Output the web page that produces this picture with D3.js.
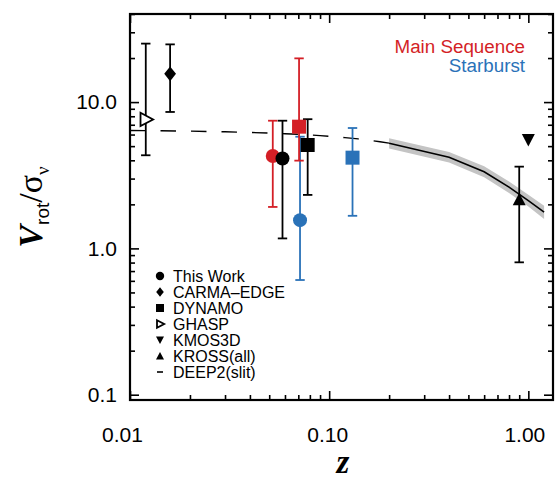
<!DOCTYPE html>
<html>
<head>
<meta charset="utf-8">
<script src="https://cdn.jsdelivr.net/npm/d3@7"></script>
<style>
  html, body { margin: 0; padding: 0; background: #fff; }
  svg { display: block; }
</style>
</head>
<body>
<svg id="chart" width="557" height="479" font-family="Liberation Sans, Arial, Helvetica, sans-serif"></svg>
<script>
// ---------------- data ----------------
// This Work (circles): main sequence (red), all (black), starburst (blue)
const thisWorkZ   = [0.0521, 0.0583, 0.0714];
const thisWorkV   = [4.28, 4.12, 1.56];
const thisWorkLo  = [1.92, 1.17, 0.608];
const thisWorkHi  = [7.46, 7.46, 5.80];
const thisWorkCls = ["ms", "all", "sb"];

// DYNAMO (squares)
const dynamoZ   = [0.0706, 0.078, 0.131];
const dynamoV   = [6.79, 5.09, 4.17];
const dynamoLo  = [3.98, 2.32, 1.67];
const dynamoHi  = [19.9, 7.64, 6.65];
const dynamoCls = ["ms", "all", "sb"];

// CARMA-EDGE (diamond)
const carmaZ = [0.0159], carmaV = [15.6], carmaLo = [8.56], carmaHi = [24.8];
// GHASP (open right triangle)
const ghaspZ = [0.012], ghaspV = [7.61], ghaspLo = [4.33], ghaspHi = [25.1];
// KMOS3D (down triangle)
const kmosZ = [1.0], kmosV = [5.51];
// KROSS(all) (up triangle)
const krossZ = [0.90], krossV = [2.16], krossLo = [0.803], krossHi = [3.62];

// DEEP2(slit) dashed low-z line
const deepDashZ = [0.01, 0.02, 0.03, 0.04, 0.05, 0.06, 0.07, 0.08, 0.09, 0.10, 0.12, 0.14, 0.16, 0.18, 0.20];
const deepDashV = [6.40, 6.33, 6.27, 6.20, 6.14, 6.08, 6.02, 5.96, 5.90, 5.84, 5.72, 5.60, 5.48, 5.36, 5.24];
// DEEP2 solid line with band
const deepZ  = [0.2, 0.4, 0.6, 0.8, 1.0, 1.2];
const deepV  = [5.23, 4.20, 3.34, 2.62, 2.12, 1.77];
const deepLo = [4.82, 3.87, 3.06, 2.39, 1.93, 1.59];
const deepHi = [5.67, 4.56, 3.64, 2.87, 2.33, 1.96];

// axes
const xMajor = [0.01, 0.1, 1];
const xMajorLabels = ["0.01", "0.10", "1.00"];
const xMinor = [0.02,0.03,0.04,0.05,0.06,0.07,0.08,0.09,0.2,0.3,0.4,0.5,0.6,0.7,0.8,0.9];
const yMajor = [0.1, 1, 10];
const yMajorLabels = ["0.1", "1.0", "10.0"];
const yMinor = [0.2,0.3,0.4,0.5,0.6,0.7,0.8,0.9,2,3,4,5,6,7,8,9,20,30,40];

// legend
const legendLabels  = ["This Work", "CARMA\u2013EDGE", "DYNAMO", "GHASP", "KMOS3D", "KROSS(all)", "DEEP2(slit)"];
const legendSymbols = ["circle", "diamond", "square", "rtri", "dtri", "utri", "dash"];
const classLabels = ["Main Sequence", "Starburst"];

// ---------------- drawing ----------------
const colors = { ms: "#d41f26", sb: "#2a72b8", all: "#000000" };
const SANS = "Liberation Sans, Arial, Helvetica, sans-serif";
const SERIF = "Liberation Serif, Times New Roman, Times, serif";
const svg = d3.select("#chart");
const L = 130, R = 553, T = 14, B = 400;
const x = d3.scaleLog().domain([0.01, 1.33]).range([L, R]);
const y = d3.scaleLog().domain([0.092, 40]).range([B, T]);

// band
const bandData = deepZ.map((z, i) => ({ z, lo: deepLo[i], hi: deepHi[i] }));
svg.append("path")
  .datum(bandData)
  .attr("fill", "#c4c4c4")
  .attr("d", d3.area().x(d => x(d.z)).y0(d => y(d.lo)).y1(d => y(d.hi)));

// dashed line
svg.append("path")
  .datum(deepDashZ.map((z, i) => ({ z, v: deepDashV[i] })))
  .attr("fill", "none").attr("stroke", "#000").attr("stroke-width", 1.4)
  .attr("stroke-dasharray", "15.5,15")
  .attr("d", d3.line().x(d => x(d.z)).y(d => y(d.v)));

// solid line
svg.append("path")
  .datum(deepZ.map((z, i) => ({ z, v: deepV[i] })))
  .attr("fill", "none").attr("stroke", "#000").attr("stroke-width", 1.6)
  .attr("d", d3.line().x(d => x(d.z)).y(d => y(d.v)));

// error bars helper
function errbar(z, lo, hi, color) {
  const g = svg.append("g").attr("stroke", color).attr("stroke-width", 1.8).attr("fill", "none");
  const cx = x(z), cap = 4.7;
  g.append("line").attr("x1", cx).attr("x2", cx).attr("y1", y(lo)).attr("y2", y(hi));
  g.append("line").attr("x1", cx - cap).attr("x2", cx + cap).attr("y1", y(lo)).attr("y2", y(lo));
  g.append("line").attr("x1", cx - cap).attr("x2", cx + cap).attr("y1", y(hi)).attr("y2", y(hi));
}

function symbolPath(type, s) {
  switch (type) {
    case "square":  return `M${-s},${-s}H${s}V${s}H${-s}Z`;
    case "diamond": return `M0,${-s*1.2}L${s*0.95},0L0,${s*1.2}L${-s*0.95},0Z`;
    case "rtri":    return `M${-s*0.75},${-s*0.95}L${s*1.05},0L${-s*0.75},${s*0.95}Z`;
    case "dtri":    return `M${-s},${-s*0.9}L${s},${-s*0.9}L0,${s*1.0}Z`;
    case "utri":    return `M${-s},${s*0.9}L${s},${s*0.9}L0,${-s*1.0}Z`;
  }
}
function marker(type, cx, cy, s, color, open) {
  if (type === "circle") {
    svg.append("circle").attr("cx", cx).attr("cy", cy).attr("r", s).attr("fill", color);
  } else if (type === "dash") {
    svg.append("line").attr("x1", cx - 3).attr("x2", cx + 3).attr("y1", cy).attr("y2", cy)
      .attr("stroke", color).attr("stroke-width", 1.6);
  } else {
    svg.append("path").attr("transform", `translate(${cx},${cy})`).attr("d", symbolPath(type, s))
      .attr("fill", open ? "#fff" : color).attr("stroke", open ? color : "none")
      .attr("stroke-width", open ? 1.8 : 0);
  }
}

// GHASP
ghaspZ.forEach((z, i) => { errbar(z, ghaspLo[i], ghaspHi[i], "#000"); marker("rtri", x(z), y(ghaspV[i]), 7, "#000", true); });
// CARMA
carmaZ.forEach((z, i) => { errbar(z, carmaLo[i], carmaHi[i], "#000"); marker("diamond", x(z), y(carmaV[i]), 6.2, "#000"); });
// This Work
thisWorkZ.forEach((z, i) => { errbar(z, thisWorkLo[i], thisWorkHi[i], colors[thisWorkCls[i]]); });
thisWorkZ.forEach((z, i) => { marker("circle", x(z), y(thisWorkV[i]), 7, colors[thisWorkCls[i]]); });
// DYNAMO
dynamoZ.forEach((z, i) => { errbar(z, dynamoLo[i], dynamoHi[i], colors[dynamoCls[i]]); });
dynamoZ.forEach((z, i) => { marker("square", x(z), y(dynamoV[i]), 7, colors[dynamoCls[i]]); });
// KMOS3D
kmosZ.forEach((z, i) => marker("dtri", x(z), y(kmosV[i]), 6.5, "#000"));
// KROSS
krossZ.forEach((z, i) => { errbar(z, krossLo[i], krossHi[i], "#000"); marker("utri", x(z), y(krossV[i]), 6.5, "#000"); });

// ---------- axes ----------
const axFont = 21;
function styleAxis(g) {
  g.attr("font-family", SANS);
  g.select(".domain").remove();
  g.selectAll(".tick line").attr("stroke", "#000").attr("stroke-width", 1.6);
  g.selectAll(".tick text").attr("font-size", axFont).attr("fill", "#000");
}
// left
svg.append("g").attr("transform", `translate(${L},0)`)
  .call(d3.axisLeft(y).tickValues(yMajor).tickSize(-9).tickPadding(13)
    .tickFormat((d, i) => yMajorLabels[i])).call(styleAxis);
svg.append("g").attr("transform", `translate(${L},0)`)
  .call(d3.axisLeft(y).tickValues(yMinor).tickSize(-5).tickFormat("")).call(styleAxis);
// right
svg.append("g").attr("transform", `translate(${R},0)`)
  .call(d3.axisRight(y).tickValues(yMajor).tickSize(-9).tickFormat("")).call(styleAxis);
svg.append("g").attr("transform", `translate(${R},0)`)
  .call(d3.axisRight(y).tickValues(yMinor).tickSize(-5).tickFormat("")).call(styleAxis);
// bottom
svg.append("g").attr("transform", `translate(0,${B})`)
  .call(d3.axisBottom(x).tickValues(xMajor).tickSize(-9).tickPadding(27)
    .tickFormat((d, i) => xMajorLabels[i])).call(styleAxis)
  .selectAll(".tick text").attr("dx", (d, i) => i === 0 ? -8 : (i === 1 ? -2 : -4));
svg.append("g").attr("transform", `translate(0,${B})`)
  .call(d3.axisBottom(x).tickValues(xMinor).tickSize(-5).tickFormat("")).call(styleAxis);
// top
svg.append("g").attr("transform", `translate(0,${T})`)
  .call(d3.axisTop(x).tickValues(xMajor).tickSize(-9).tickFormat("")).call(styleAxis);
svg.append("g").attr("transform", `translate(0,${T})`)
  .call(d3.axisTop(x).tickValues(xMinor).tickSize(-5).tickFormat("")).call(styleAxis);

// frame
svg.append("rect").attr("x", L).attr("y", T).attr("width", R - L).attr("height", B - T)
  .attr("fill", "none").attr("stroke", "#000").attr("stroke-width", 2.2);

// axis titles
svg.append("text").attr("x", 343).attr("y", 473).attr("text-anchor", "middle")
  .attr("font-family", SERIF)
  .attr("font-style", "italic").attr("font-weight", "bold").attr("font-size", 33).text("z");

const yt = svg.append("text").attr("transform", "translate(42,207) rotate(-90)")
  .attr("text-anchor", "middle");
yt.append("tspan").attr("font-family", SERIF).attr("font-style", "italic")
  .attr("font-weight", "bold").attr("font-size", 34).text("V");
yt.append("tspan").attr("font-family", SANS).attr("font-size", 19)
  .attr("dy", 7).text("rot");
yt.append("tspan").attr("font-family", SERIF).attr("font-size", 34)
  .attr("dy", -7).text("/\u03c3");
yt.append("tspan").attr("font-family", SERIF).attr("font-size", 19)
  .attr("dy", 7).text("\u03bd");

// class labels
svg.append("text").attr("x", 525).attr("y", 53).attr("text-anchor", "end")
  .attr("font-size", 18.8).attr("fill", colors.ms).text(classLabels[0]);
svg.append("text").attr("x", 525).attr("y", 72).attr("text-anchor", "end")
  .attr("font-size", 18.8).attr("fill", colors.sb).text(classLabels[1]);

// legend
const legY0 = 276, legDY = 16;
legendLabels.forEach((lab, i) => {
  const cy = legY0 + i * legDY;
  const t = legendSymbols[i];
  marker(t, 160, cy, t === "circle" ? 4.2 : 4, "#000", t === "rtri");
  svg.append("text").attr("x", 173).attr("y", cy + 5.8).attr("font-size", 16).attr("fill", "#000").text(lab);
});
</script>
</body>
</html>
